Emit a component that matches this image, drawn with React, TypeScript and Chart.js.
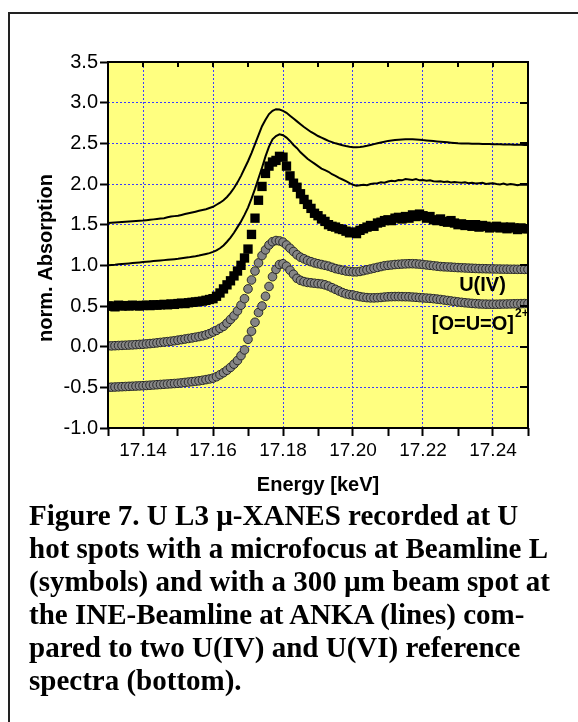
import React, { useEffect, useRef } from 'react';
import { Chart, registerables } from 'chart.js';

Chart.register(...registerables);

// ---------- data ----------
const energy = [
  17.130, 17.131, 17.132, 17.133, 17.134, 17.135, 17.136, 17.137, 17.138, 17.139,
  17.140, 17.141, 17.142, 17.143, 17.144, 17.145, 17.146, 17.147, 17.148, 17.149,
  17.150, 17.151, 17.152, 17.153, 17.154, 17.155, 17.156, 17.157, 17.158, 17.159,
  17.160, 17.161, 17.162, 17.163, 17.164, 17.165, 17.166, 17.167, 17.168, 17.169,
  17.170, 17.171, 17.172, 17.173, 17.174, 17.175, 17.176, 17.177, 17.178, 17.179,
  17.180, 17.181, 17.182, 17.183, 17.184, 17.185, 17.186, 17.187, 17.188, 17.189,
  17.190, 17.191, 17.192, 17.193, 17.194, 17.195, 17.196, 17.197, 17.198, 17.199,
  17.200, 17.201, 17.202, 17.203, 17.204, 17.205, 17.206, 17.207, 17.208, 17.209,
  17.210, 17.211, 17.212, 17.213, 17.214, 17.215, 17.216, 17.217, 17.218, 17.219,
  17.220, 17.221, 17.222, 17.223, 17.224, 17.225, 17.226, 17.227, 17.228, 17.229,
  17.230, 17.231, 17.232, 17.233, 17.234, 17.235, 17.236, 17.237, 17.238, 17.239,
  17.240, 17.241, 17.242, 17.243, 17.244, 17.245, 17.246, 17.247, 17.248, 17.249,
  17.250,
];

// INE-Beamline spectrum 1 (top line)
const lineTop = [
  1.52, 1.523, 1.526, 1.529, 1.532, 1.535, 1.538, 1.541, 1.544, 1.547,
  1.55, 1.555, 1.56, 1.565, 1.57, 1.575, 1.58, 1.59, 1.60, 1.605,
  1.61, 1.62, 1.63, 1.64, 1.65, 1.66, 1.67, 1.68, 1.69, 1.705,
  1.72, 1.745, 1.77, 1.80, 1.84, 1.89, 1.95, 2.02, 2.10, 2.19,
  2.28, 2.38, 2.49, 2.60, 2.71, 2.79, 2.86, 2.90, 2.92, 2.915,
  2.90, 2.875, 2.84, 2.805, 2.77, 2.735, 2.70, 2.67, 2.64, 2.615,
  2.59, 2.57, 2.55, 2.53, 2.515, 2.50, 2.488, 2.476, 2.466, 2.458,
  2.453, 2.452, 2.456, 2.462, 2.47, 2.48, 2.49, 2.50, 2.51, 2.52,
  2.53, 2.535, 2.54, 2.545, 2.548, 2.55, 2.55, 2.55, 2.548, 2.545,
  2.54, 2.536, 2.532, 2.528, 2.524, 2.52, 2.516, 2.512, 2.508, 2.504,
  2.50, 2.499, 2.498, 2.497, 2.496, 2.495, 2.494, 2.493, 2.492, 2.491,
  2.49, 2.489, 2.488, 2.487, 2.486, 2.485, 2.484, 2.483, 2.482, 2.481,
  2.48,
];

// INE-Beamline spectrum 2 (second line)
const lineSecond = [
  1.00, 1.005, 1.008, 1.012, 1.016, 1.02, 1.024, 1.028, 1.032, 1.036,
  1.04, 1.044, 1.048, 1.052, 1.056, 1.06, 1.064, 1.068, 1.072, 1.076,
  1.08, 1.086, 1.092, 1.098, 1.105, 1.112, 1.12, 1.13, 1.14, 1.15,
  1.165, 1.185, 1.21, 1.245, 1.29, 1.34, 1.40, 1.47, 1.54, 1.62,
  1.71, 1.82, 1.94, 2.07, 2.20, 2.34, 2.46, 2.55, 2.59, 2.61,
  2.60, 2.57, 2.53, 2.48, 2.44, 2.39, 2.35, 2.31, 2.28, 2.25,
  2.22, 2.19, 2.17, 2.15, 2.12, 2.10, 2.075, 2.055, 2.035, 2.01,
  1.99, 1.98, 1.985, 1.99, 1.985, 2.00, 2.005, 2.01, 2.02, 2.015,
  2.03, 2.04, 2.035, 2.05, 2.045, 2.06, 2.055, 2.05, 2.06, 2.045,
  2.05, 2.04, 2.045, 2.035, 2.03, 2.035, 2.025, 2.03, 2.02, 2.025,
  2.02, 2.015, 2.02, 2.01, 2.015, 2.005, 2.01, 2.015, 2.00, 2.005,
  2.01, 2.00, 1.995, 2.005, 1.99, 2.00, 1.995, 1.985, 1.995, 1.99,
  1.99,
];

// Beamline L micro-XANES (squares)
const microSquares = [
  0.50, 0.50, 0.49, 0.51, 0.50, 0.505, 0.50, 0.51, 0.505, 0.50,
  0.507, 0.51, 0.505, 0.515, 0.51, 0.515, 0.52, 0.515, 0.525, 0.52,
  0.53, 0.535, 0.53, 0.54, 0.545, 0.55, 0.555, 0.56, 0.57, 0.58,
  0.59, 0.62, 0.66, 0.71, 0.76, 0.81, 0.87, 0.93, 1.00, 1.09,
  1.20, 1.38, 1.58, 1.80, 1.97, 2.13, 2.22, 2.27, 2.29, 2.34,
  2.33, 2.22, 2.10, 2.01, 1.96, 1.88, 1.81, 1.75, 1.70, 1.64,
  1.61, 1.57, 1.54, 1.50, 1.48, 1.47, 1.45, 1.44, 1.42, 1.40,
  1.41, 1.39, 1.43, 1.45, 1.47, 1.49, 1.48, 1.52, 1.53, 1.55,
  1.56, 1.55, 1.58, 1.59, 1.57, 1.60, 1.58, 1.62, 1.60, 1.63,
  1.61, 1.58, 1.60, 1.56, 1.55, 1.57, 1.54, 1.53, 1.55, 1.52,
  1.50, 1.51, 1.49, 1.50, 1.48, 1.50, 1.47, 1.49, 1.48, 1.46,
  1.47, 1.48, 1.46, 1.47, 1.45, 1.47, 1.46, 1.44, 1.46, 1.45,
  1.45,
];

// U(IV) reference (circles)
const refU4 = [
  0.01, 0.01, 0.012, 0.014, 0.016, 0.018, 0.02, 0.022, 0.025, 0.028,
  0.03, 0.034, 0.038, 0.042, 0.047, 0.052, 0.057, 0.062, 0.067, 0.073,
  0.08, 0.087, 0.094, 0.101, 0.108, 0.116, 0.124, 0.133, 0.145, 0.16,
  0.18, 0.20, 0.225, 0.25, 0.29, 0.335, 0.38, 0.44, 0.51, 0.59,
  0.71, 0.82, 0.93, 1.03, 1.12, 1.19, 1.25, 1.29, 1.305, 1.30,
  1.285, 1.25, 1.21, 1.17, 1.13, 1.10, 1.08, 1.06, 1.045, 1.03,
  1.02, 1.01, 1.00, 0.99, 0.975, 0.96, 0.95, 0.94, 0.93, 0.925,
  0.92, 0.92, 0.925, 0.935, 0.945, 0.955, 0.965, 0.975, 0.985, 0.995,
  1.00, 1.005, 1.01, 1.013, 1.016, 1.018, 1.02, 1.02, 1.018, 1.015,
  1.01, 1.005, 1.00, 0.995, 0.99, 0.985, 0.982, 0.98, 0.978, 0.975,
  0.972, 0.97, 0.968, 0.966, 0.964, 0.962, 0.96, 0.959, 0.958, 0.957,
  0.956, 0.955, 0.954, 0.953, 0.953, 0.952, 0.952, 0.951, 0.951, 0.95,
  0.95,
];

// [O=U=O]2+ reference (circles)
const refUO2 = [
  -0.50, -0.498, -0.496, -0.494, -0.492, -0.49, -0.488, -0.486, -0.484, -0.482,
  -0.48, -0.477, -0.474, -0.471, -0.468, -0.465, -0.462, -0.459, -0.456, -0.453,
  -0.45, -0.445, -0.44, -0.435, -0.43, -0.425, -0.42, -0.413, -0.405, -0.397,
  -0.387, -0.37, -0.345, -0.32, -0.29, -0.255, -0.215, -0.17, -0.11, -0.04,
  0.09, 0.19, 0.30, 0.42, 0.50, 0.62, 0.74, 0.86, 0.95, 1.01,
  1.02, 0.99, 0.94, 0.89, 0.84, 0.815, 0.80, 0.79, 0.785, 0.78,
  0.775, 0.77, 0.76, 0.745, 0.725, 0.705, 0.685, 0.665, 0.65, 0.64,
  0.635, 0.625, 0.615, 0.608, 0.603, 0.60, 0.60, 0.602, 0.605, 0.61,
  0.613, 0.615, 0.616, 0.616, 0.615, 0.614, 0.613, 0.61, 0.607, 0.603,
  0.60, 0.597, 0.594, 0.59, 0.585, 0.58, 0.574, 0.568, 0.562, 0.556,
  0.55, 0.545, 0.54, 0.536, 0.532, 0.529, 0.526, 0.524, 0.523, 0.522,
  0.522, 0.522, 0.523, 0.524, 0.525, 0.526, 0.527, 0.528, 0.529, 0.53,
  0.53,
];

const xTicks = [17.13, 17.14, 17.15, 17.16, 17.17, 17.18, 17.19, 17.20, 17.21, 17.22, 17.23, 17.24, 17.25];
const xTickLabels = ['', '17.14', '', '17.16', '', '17.18', '', '17.20', '', '17.22', '', '17.24', ''];
const yTicks = [-1.0, -0.5, 0.0, 0.5, 1.0, 1.5, 2.0, 2.5, 3.0, 3.5];
const yTickLabels = ['-1.0', '-0.5', '0.0', '0.5', '1.0', '1.5', '2.0', '2.5', '3.0', '3.5'];

const xTitle = 'Energy [keV]';
const yTitle = 'norm. Absorption';
const labelU4 = 'U(IV)';
const labelUO2 = '[O=U=O]';
const labelUO2Sup = '2+';

const captionLines = [
  'Figure 7. U L3 \u00b5-XANES recorded at U',
  'hot spots with a microfocus at Beamline L',
  '(symbols) and with a 300 \u00b5m beam spot at',
  'the INE-Beamline at ANKA (lines) com-',
  'pared to two U(IV) and U(VI) reference',
  'spectra (bottom).',
];

const SANS = '"Liberation Sans", Arial, Helvetica, sans-serif';
const SERIF = '"Liberation Serif", "Times New Roman", Times, serif';

const toPoints = (ys: number[]) => energy.map((x, i) => ({ x, y: ys[i] }));

const decorPlugin = {
  id: 'decor',
  beforeDraw(chart: any) {
    const { ctx, chartArea } = chart;
    ctx.save();
    ctx.fillStyle = '#FFFF80';
    ctx.fillRect(chartArea.left, chartArea.top, chartArea.right - chartArea.left, chartArea.bottom - chartArea.top);
    ctx.restore();
  },
  afterDatasetsDraw(chart: any) {
    const { ctx, chartArea, scales } = chart;
    const { left, right, top, bottom } = chartArea;
    ctx.save();
    ctx.strokeStyle = '#000';
    ctx.lineWidth = 2;
    ctx.strokeRect(left, top, right - left, bottom - top);
    // mirrored inward ticks on top and right axes
    ctx.beginPath();
    xTicks.forEach((v) => {
      const px = Math.round(scales.x.getPixelForValue(v));
      ctx.moveTo(px, top);
      ctx.lineTo(px, top + 5);
    });
    yTicks.forEach((v) => {
      const py = Math.round(scales.y.getPixelForValue(v));
      ctx.moveTo(right, py);
      ctx.lineTo(right - 8, py);
    });
    ctx.stroke();
    ctx.restore();
  },
  afterDraw(chart: any) {
    const { ctx, chartArea, scales } = chart;
    ctx.save();
    ctx.fillStyle = '#000';
    // y axis title
    ctx.translate(chartArea.left - 62, (chartArea.top + chartArea.bottom) / 2 + 13);
    ctx.rotate(-Math.PI / 2);
    ctx.font = `bold 20px ${SANS}`;
    ctx.textAlign = 'center';
    ctx.textBaseline = 'middle';
    ctx.fillText(yTitle, 0, 0);
    ctx.restore();

    ctx.save();
    ctx.fillStyle = '#000';
    ctx.font = `bold 20px ${SANS}`;
    ctx.textBaseline = 'alphabetic';
    ctx.textAlign = 'center';
    ctx.fillText(labelU4, scales.x.getPixelForValue(17.237), scales.y.getPixelForValue(0.684));
    ctx.textAlign = 'left';
    const lx = scales.x.getPixelForValue(17.2225);
    const ly = scales.y.getPixelForValue(0.205);
    ctx.fillText(labelUO2, lx, ly);
    const w = ctx.measureText(labelUO2).width;
    ctx.font = `bold 12px ${SANS}`;
    ctx.fillText(labelUO2Sup, lx + w + 1, scales.y.getPixelForValue(0.36));
    ctx.restore();
  },
};

export default function App() {
  const canvasRef = useRef<HTMLCanvasElement | null>(null);

  useEffect(() => {
    const canvas = canvasRef.current;
    if (!canvas) return;
    const circleStyle = {
      showLine: false,
      pointStyle: 'circle',
      pointRadius: 4.3,
      pointBackgroundColor: '#858585',
      pointBorderColor: '#2a2a2a',
      pointBorderWidth: 1,
      clip: 0,
    };
    const chart = new Chart(canvas, {
      type: 'scatter',
      data: {
        datasets: [
          {
            label: 'INE 1',
            data: toPoints(lineTop),
            showLine: true,
            borderColor: '#000',
            borderWidth: 2,
            pointRadius: 0,
            clip: 0,
          },
          {
            label: 'INE 2',
            data: toPoints(lineSecond),
            showLine: true,
            borderColor: '#000',
            borderWidth: 2,
            pointRadius: 0,
            clip: 0,
          },
          {
            label: 'Beamline L',
            data: toPoints(microSquares),
            showLine: false,
            pointStyle: 'rect',
            pointRadius: 6.6,
            pointBackgroundColor: '#000',
            pointBorderColor: '#000',
            pointBorderWidth: 0,
            clip: 0,
          },
          { label: 'U(IV)', data: toPoints(refU4), ...circleStyle },
          { label: 'UO2', data: toPoints(refUO2), ...circleStyle },
        ],
      } as any,
      options: {
        responsive: false,
        animation: false,
        events: [],
        layout: { padding: { left: 8, right: 50, top: 62, bottom: 0 } },
        plugins: {
          legend: { display: false },
          tooltip: { enabled: false },
          title: { display: false },
        },
        scales: {
          x: {
            type: 'linear',
            min: 17.13,
            max: 17.25,
            afterBuildTicks: (scale: any) => {
              scale.ticks = xTicks.map((v) => ({ value: v }));
            },
            afterFit: (scale: any) => {
              scale.height = 72;
            },
            ticks: {
              autoSkip: false,
              maxRotation: 0,
              padding: 3,
              color: '#000',
              font: { family: SANS, size: 19 },
              callback: (_v: any, i: number) => xTickLabels[i],
            },
            grid: {
              color: (ctx: any) => (ctx.tick && xTickLabels[ctx.index] ? '#3a3aff' : 'rgba(0,0,0,0)'),
              lineWidth: 1,
              tickColor: '#000',
              tickWidth: 2,
              tickLength: 8,
              drawTicks: true,
            },
            border: { display: false, dash: [2, 2] },
            title: {
              display: true,
              text: xTitle,
              color: '#000',
              font: { family: SANS, size: 20, weight: 'bold' },
              padding: { top: 0, bottom: 3 },
            },
          },
          y: {
            type: 'linear',
            min: -1,
            max: 3.5,
            afterBuildTicks: (scale: any) => {
              scale.ticks = yTicks.map((v) => ({ value: v }));
            },
            afterFit: (scale: any) => {
              scale.width = 100;
            },
            ticks: {
              autoSkip: false,
              padding: 2,
              color: '#000',
              font: { family: SANS, size: 20 },
              callback: (_v: any, i: number) => yTickLabels[i],
            },
            grid: {
              color: (ctx: any) =>
                ctx.tick && ctx.index > 0 && ctx.index < yTicks.length - 1 ? '#3a3aff' : 'rgba(0,0,0,0)',
              lineWidth: 1,
              tickColor: '#000',
              tickWidth: 2,
              tickLength: 8,
              drawTicks: true,
            },
            border: { display: false, dash: [2, 2] },
            title: { display: false },
          },
        },
      } as any,
      plugins: [decorPlugin],
    });
    return () => chart.destroy();
  }, []);

  return (
    <>
      <div
        style={{
          position: 'absolute',
          left: 8,
          top: 12,
          width: 570,
          height: 710,
          boxSizing: 'border-box',
          borderLeft: '2px solid #222',
          borderTop: '2px solid #222',
          background: '#fff',
        }}
      />
      <div style={{ position: 'absolute', left: 0, top: 0, width: 578, height: 500 }}>
        <canvas ref={canvasRef} width={578} height={500} style={{ width: 578, height: 500, display: 'block' }} />
      </div>
      <div
        style={{
          position: 'absolute',
          left: 29,
          top: 499,
          fontFamily: SERIF,
          fontWeight: 'bold',
          fontSize: 29,
          lineHeight: '33px',
          color: '#000',
          whiteSpace: 'pre',
        }}
      >
        {captionLines.map((l, i) => (
          <div key={i}>{l}</div>
        ))}
      </div>
    </>
  );
}
